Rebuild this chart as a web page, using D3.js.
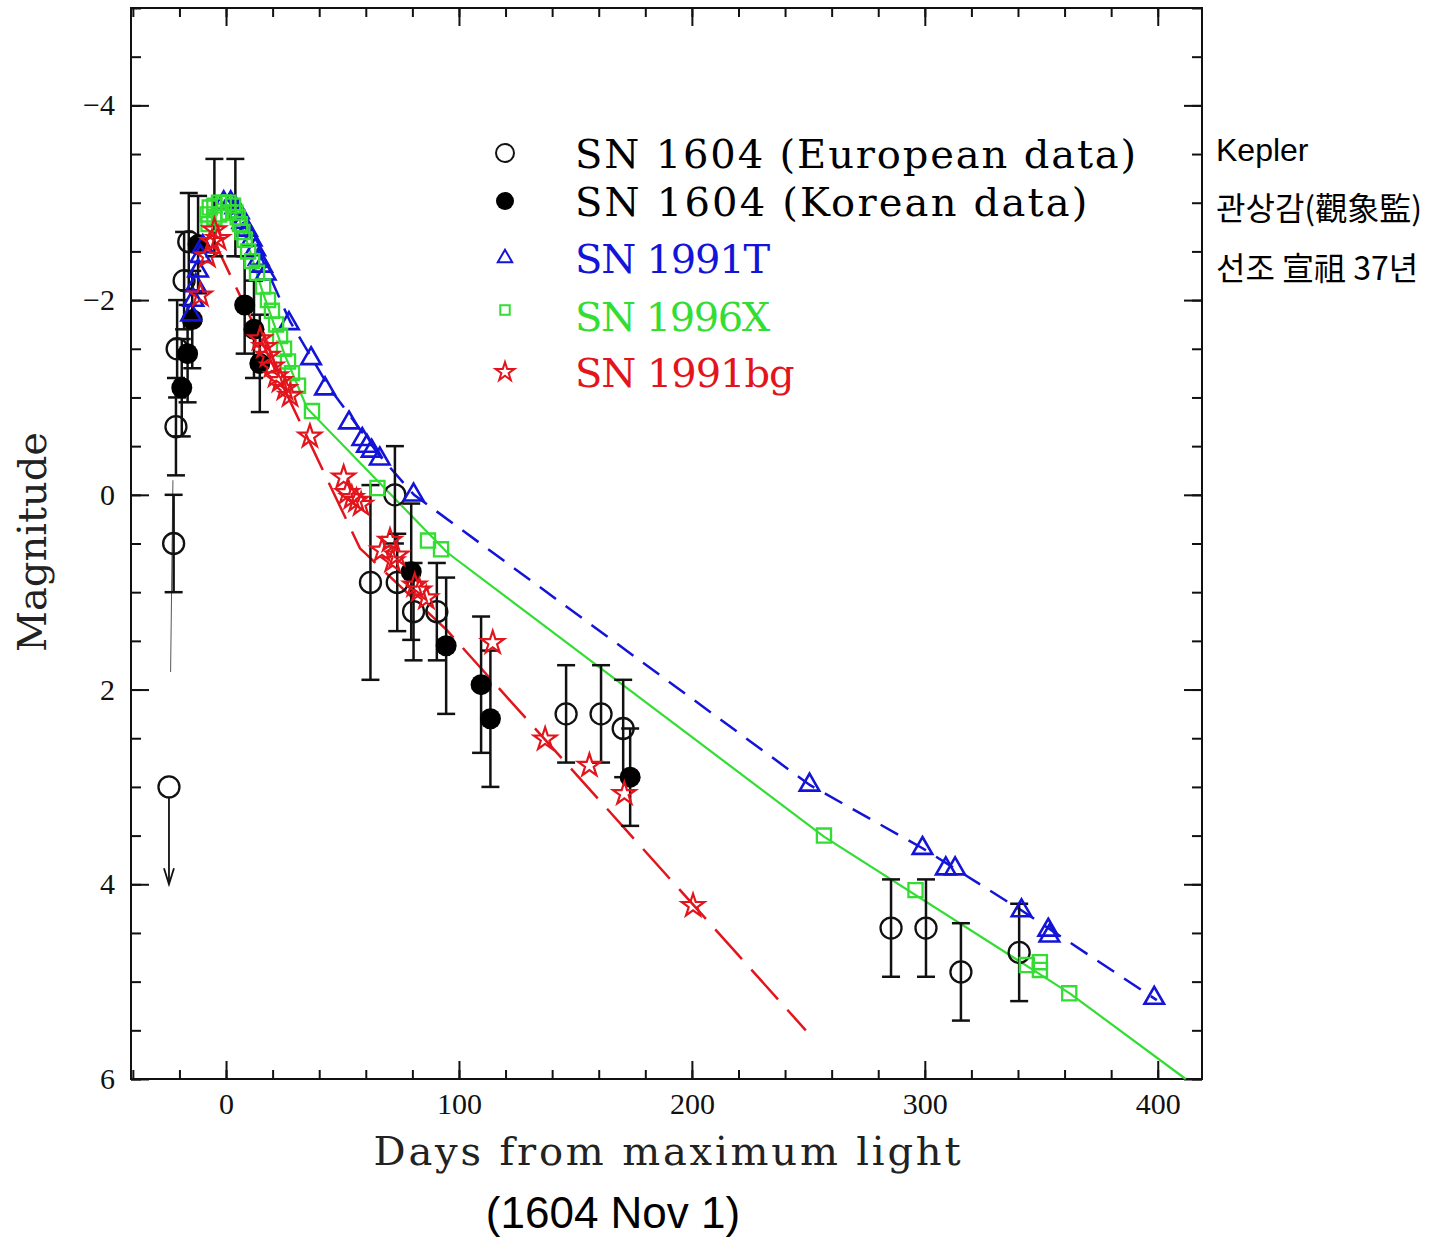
<!DOCTYPE html>
<html>
<head>
<meta charset="utf-8">
<script src="https://cdn.jsdelivr.net/npm/d3@7"></script>
<style>
  body { margin: 0; background: #fff; }
</style>
</head>
<body>
<svg id="chart" width="1439" height="1237"></svg>
<script>
// [day, magnitude, error]
var europeanData = [
  [-22.5, 0.5, 0.5], [-21.5, -0.7, 0.5], [-21, -1.5, 0.5], [-18, -2.2, 0.5], [-16, -2.6, 0.5],
  [62, 0.9, 1.0], [72.5, 0.0, 0.5], [73.5, 0.9, 0.5], [80.5, 1.2, 0.5], [90.5, 1.2, 0.5],
  [146, 2.25, 0.5], [161, 2.25, 0.5], [170.5, 2.4, 0.5],
  [285.5, 4.45, 0.5], [300.5, 4.45, 0.5], [315.5, 4.9, 0.5], [340.5, 4.7, 0.5]
];
// bars near the peak whose points are hidden under the 1996X squares
var peakErrorBars = [[-5, -2.95, 0.5], [4, -2.95, 0.5]];
// upper limit: [day, magnitude, arrow end]
var europeanLimit = [[-24.5, 3.0, 4.0]];
var koreanData = [
  [-19, -1.1, 0.5], [-16.5, -1.45, 0.5], [-14.5, -1.8, 0.5], [-12, -2.57, 0.5],
  [8, -1.95, 0.5], [12, -1.7, 0.5], [14.5, -1.35, 0.5],
  [79.5, 0.79, 0.7], [94.5, 1.55, 0.7], [109.5, 1.95, 0.7], [113.5, 2.3, 0.7], [173.5, 2.9, 0.5]
];
var riseTrace = [[-22.8, -0.15], [-23.8, 1.82]];

var sn1991T = [
  [-15, -1.85], [-14, -2.0], [-13, -2.15], [-12, -2.3], [-11, -2.45], [-10, -2.55],
  [-1, -3.0], [2, -3.0], [4, -2.95], [5.5, -2.9], [7, -2.8], [9, -2.72], [11, -2.62],
  [12.5, -2.52], [14, -2.42], [15.5, -2.35], [17, -2.27], [27, -1.76], [36.5, -1.4],
  [42.5, -1.09], [52.8, -0.74], [58.5, -0.57], [60.5, -0.5], [62.5, -0.45], [66, -0.37],
  [80.5, 0.0], [250.5, 2.98], [299, 3.63], [309, 3.84], [313, 3.84], [341.5, 4.27],
  [353, 4.47], [353.5, 4.53], [398.5, 5.17]
];
var sn1991TCurve = [
  [-1, -3.02], [2.6, -3.02], [15.5, -2.42], [27.5, -1.78], [44.6, -1.09], [66, -0.4],
  [80.7, 0.0], [250.6, 2.98], [299, 3.63], [341.6, 4.27], [399.6, 5.19]
];

var sn1996X = [
  [-8, -2.88], [-7.5, -2.78], [-7, -2.95], [-5, -2.97], [-5, -2.85], [-3, -3.0], [-1, -3.0],
  [-3, -2.88], [1, -2.9], [1, -3.0], [3, -2.97], [4, -2.9], [5, -2.85], [6, -2.78], [7, -2.7], [8, -2.62],
  [9.5, -2.5], [11.2, -2.4], [13.3, -2.28], [15.9, -2.14], [18, -2.0], [19.7, -1.89],
  [21.5, -1.75], [23.2, -1.63], [24.9, -1.5], [26.6, -1.37], [28.3, -1.25], [30.9, -1.12],
  [36.9, -0.86], [65, -0.07], [86.7, 0.47], [92.3, 0.56], [256.7, 3.5], [296, 4.06],
  [343.8, 4.83], [349.4, 4.88], [349.4, 4.8], [362, 5.12]
];
var sn1996XCurve = [
  [-8, -2.85], [-4, -2.98], [1, -3.02], [5, -2.88], [9, -2.6], [15.5, -2.1], [25, -1.45],
  [34.8, -0.89], [94.8, 0.59], [256.7, 3.51], [362.2, 5.12], [412, 6.0]
];

var sn1991bg = [
  [-11, -2.05], [-8, -2.45], [-6, -2.6], [-5, -2.72], [-3.4, -2.63],
  [14.6, -1.6], [16.5, -1.52], [18, -1.43], [19.7, -1.32], [21.5, -1.22], [23.2, -1.17],
  [25.3, -1.09], [27.5, -1.02], [36, -0.6], [50.5, -0.18], [52, -0.02], [54, 0.03],
  [56, 0.06], [58, 0.1], [67, 0.57], [70.4, 0.47], [71.5, 0.68], [73.4, 0.62], [81, 0.93],
  [83, 0.98], [86, 1.06], [114.5, 1.52], [137, 2.51], [156, 2.78], [171, 3.07], [200.5, 4.22]
];
var sn1991bgCurve = [[-5.6, -2.63], [57.5, 0.55], [94.8, 1.39], [248.9, 5.5]];

var xMajorTicks = [0, 100, 200, 300, 400];
var xMinorTicks = d3.range(-40, 420, 20);
var yMajorTicks = [-4, -2, 0, 2, 4, 6];
var yMinorTicks = d3.range(-5, 6.01, 0.5);

var blue = '#1414d8', green = '#33dd33', red = '#e3141c';

var legendItems = [
  { label: 'SN 1604 (European data)', symbol: 'openCircle', color: '#000' },
  { label: 'SN 1604 (Korean data)', symbol: 'filledCircle', color: '#000' },
  { label: 'SN 1991T', symbol: 'triangle', color: blue },
  { label: 'SN 1996X', symbol: 'square', color: green },
  { label: 'SN 1991bg', symbol: 'star', color: red }
];

var svg = d3.select('#chart');
var plotLeft = 131, plotRight = 1202, plotTop = 8, plotBottom = 1079;

var x = d3.scaleLinear().domain([-40.8, 419]).range([plotLeft, plotRight]);
var y = d3.scaleLinear().domain([-5, 6]).range([plotTop, plotBottom]);

svg.append('rect').attr('width', 1439).attr('height', 1237).attr('fill', '#fff');

// ticks (inward on all four sides)
function drawAxis(axis, tx, ty, labels) {
  var g = svg.append('g').attr('transform', 'translate(' + tx + ',' + ty + ')').call(axis);
  g.select('.domain').remove();
  g.selectAll('.tick line').attr('stroke', '#111').attr('stroke-width', 2);
  if (!labels) g.selectAll('.tick text').remove();
  else g.selectAll('.tick text').attr('fill', '#111')
      .style('font-family', '"Liberation Serif", serif').style('font-size', '30px');
  return g;
}
drawAxis(d3.axisBottom(x).tickValues(xMinorTicks).tickSize(-9).tickFormat(''), 0, plotBottom, false);
drawAxis(d3.axisTop(x).tickValues(xMinorTicks).tickSize(-9).tickFormat(''), 0, plotTop, false);
drawAxis(d3.axisBottom(x).tickValues(xMajorTicks).tickSize(-18).tickPadding(14), 0, plotBottom, true);
drawAxis(d3.axisTop(x).tickValues(xMajorTicks).tickSize(-18), 0, plotTop, false);
drawAxis(d3.axisLeft(y).tickValues(yMinorTicks).tickSize(-10).tickFormat(''), plotLeft, 0, false);
drawAxis(d3.axisRight(y).tickValues(yMinorTicks).tickSize(-10).tickFormat(''), plotRight, 0, false);
drawAxis(d3.axisLeft(y).tickValues(yMajorTicks).tickSize(-18).tickPadding(16).tickFormat(d3.format('d')), plotLeft, 0, true);
drawAxis(d3.axisRight(y).tickValues(yMajorTicks).tickSize(-18), plotRight, 0, false);

svg.append('rect')
  .attr('x', plotLeft).attr('y', plotTop)
  .attr('width', plotRight - plotLeft).attr('height', plotBottom - plotTop)
  .attr('fill', 'none').attr('stroke', '#111').attr('stroke-width', 2);

var plot = svg.append('g');
var line = d3.line().x(function(d) { return x(d[0]); }).y(function(d) { return y(d[1]); });

// thin trace under the first points
plot.append('path').datum(riseTrace).attr('d', line)
  .attr('fill', 'none').attr('stroke', '#555').attr('stroke-width', 1);

// template curves
plot.append('path').datum(sn1991TCurve).attr('d', line)
  .attr('fill', 'none').attr('stroke', blue).attr('stroke-width', 2.5).attr('stroke-dasharray', '20,12');
plot.append('path').datum(sn1996XCurve).attr('d', line)
  .attr('fill', 'none').attr('stroke', green).attr('stroke-width', 2.2);
plot.append('path').datum(sn1991bgCurve).attr('d', line)
  .attr('fill', 'none').attr('stroke', red).attr('stroke-width', 2.5).attr('stroke-dasharray', '40,14');

// error bars
function errorBars(data) {
  var g = plot.append('g').attr('stroke', '#111').attr('stroke-width', 2.5);
  data.forEach(function(d) {
    var cx = x(d[0]), y0 = y(d[1] - d[2]), y1 = y(d[1] + d[2]);
    g.append('line').attr('x1', cx).attr('x2', cx).attr('y1', y0).attr('y2', y1);
    g.append('line').attr('x1', cx - 9).attr('x2', cx + 9).attr('y1', y0).attr('y2', y0);
    g.append('line').attr('x1', cx - 9).attr('x2', cx + 9).attr('y1', y1).attr('y2', y1);
  });
}
errorBars(europeanData);
errorBars(peakErrorBars);
errorBars(koreanData);

// upper limit arrow
europeanLimit.forEach(function(d) {
  var cx = x(d[0]), ys = y(d[1]) + 10, ye = y(d[2]);
  plot.append('line').attr('x1', cx).attr('x2', cx).attr('y1', ys).attr('y2', ye)
    .attr('stroke', '#111').attr('stroke-width', 1.8);
  plot.append('path')
    .attr('d', 'M' + (cx - 5) + ',' + (ye - 16) + 'L' + cx + ',' + ye + 'L' + (cx + 5) + ',' + (ye - 16))
    .attr('fill', 'none').attr('stroke', '#111').attr('stroke-width', 1.8);
});

// markers
plot.append('g').selectAll('circle').data(europeanData.concat(europeanLimit)).join('circle')
  .attr('cx', function(d) { return x(d[0]); }).attr('cy', function(d) { return y(d[1]); })
  .attr('r', 10.5).attr('fill', 'none').attr('stroke', '#111').attr('stroke-width', 2.3);
plot.append('g').selectAll('circle').data(koreanData).join('circle')
  .attr('cx', function(d) { return x(d[0]); }).attr('cy', function(d) { return y(d[1]); })
  .attr('r', 10.5).attr('fill', '#000');

function symbols(data, type, size, color, width) {
  var sym = d3.symbol().type(type).size(size);
  plot.append('g').selectAll('path').data(data).join('path')
    .attr('transform', function(d) { return 'translate(' + x(d[0]) + ',' + y(d[1]) + ')'; })
    .attr('d', sym).attr('fill', 'none').attr('stroke', color).attr('stroke-width', width);
}
symbols(sn1991T, d3.symbolTriangle, 165, blue, 2.6);
symbols(sn1996X, d3.symbolSquare, 200, green, 2.3);
symbols(sn1991bg, d3.symbolStar, 160, red, 2.2);

// legend
var legend = svg.append('g');
legendItems.forEach(function(item, i) {
  var cy = [153, 201, 258, 310, 372][i];
  var g = legend.append('g');
  if (item.symbol === 'openCircle') {
    g.append('circle').attr('cx', 505).attr('cy', cy).attr('r', 9)
      .attr('fill', 'none').attr('stroke', '#111').attr('stroke-width', 2);
  } else if (item.symbol === 'filledCircle') {
    g.append('circle').attr('cx', 505).attr('cy', cy).attr('r', 9).attr('fill', '#000');
  } else {
    var type = { triangle: d3.symbolTriangle, square: d3.symbolSquare, star: d3.symbolStar }[item.symbol];
    g.append('path').attr('transform', 'translate(505,' + cy + ')')
      .attr('d', d3.symbol().type(type).size(item.symbol === 'star' ? 110 : 90))
      .attr('fill', 'none').attr('stroke', item.color).attr('stroke-width', 2);
  }
  var baseY = [153, 201, 258, 316, 372][i] + 15;
  g.append('text').attr('x', 575).attr('y', baseY)
    .attr('textLength', item.label.length * 24.4).attr('lengthAdjust', 'spacing')
    .style('font-family', '"DejaVu Serif", serif').style('font-size', '40px')
    .attr('fill', item.color).text(item.label);
});

// axis titles
svg.append('text').attr('x', 667).attr('y', 1165).attr('text-anchor', 'middle')
  .attr('textLength', 587).attr('lengthAdjust', 'spacing')
  .style('font-family', '"DejaVu Serif", serif').style('font-size', '40px').attr('fill', '#222')
  .text('Days from maximum light');
svg.append('text').attr('transform', 'translate(46,542) rotate(-90)').attr('text-anchor', 'middle')
  .attr('textLength', 220).attr('lengthAdjust', 'spacing')
  .style('font-family', '"DejaVu Serif", serif').style('font-size', '40px').attr('fill', '#222')
  .text('Magnitude');

svg.append('text').attr('x', 613).attr('y', 1228).attr('text-anchor', 'middle')
  .style('font-family', '"Liberation Sans", sans-serif').style('font-size', '44px').attr('fill', '#000')
  .text('(1604 Nov 1)');

// side notes
var notes = ['Kepler', '관상감(觀象監)', '선조 宣祖 37년'];
svg.append('g').selectAll('text').data(notes).join('text')
  .attr('x', 1216).attr('y', function(d, i) { return [161, 220, 280][i]; })
  .style('font-family', function(d, i) { return i === 0 ? '"Liberation Sans", sans-serif' : '"Noto Sans CJK KR", sans-serif'; })
  .style('font-size', function(d, i) { return i === 0 ? '32px' : '32px'; })
  .attr('fill', '#000')
  .text(function(d) { return d; });
</script>
</body>
</html>
